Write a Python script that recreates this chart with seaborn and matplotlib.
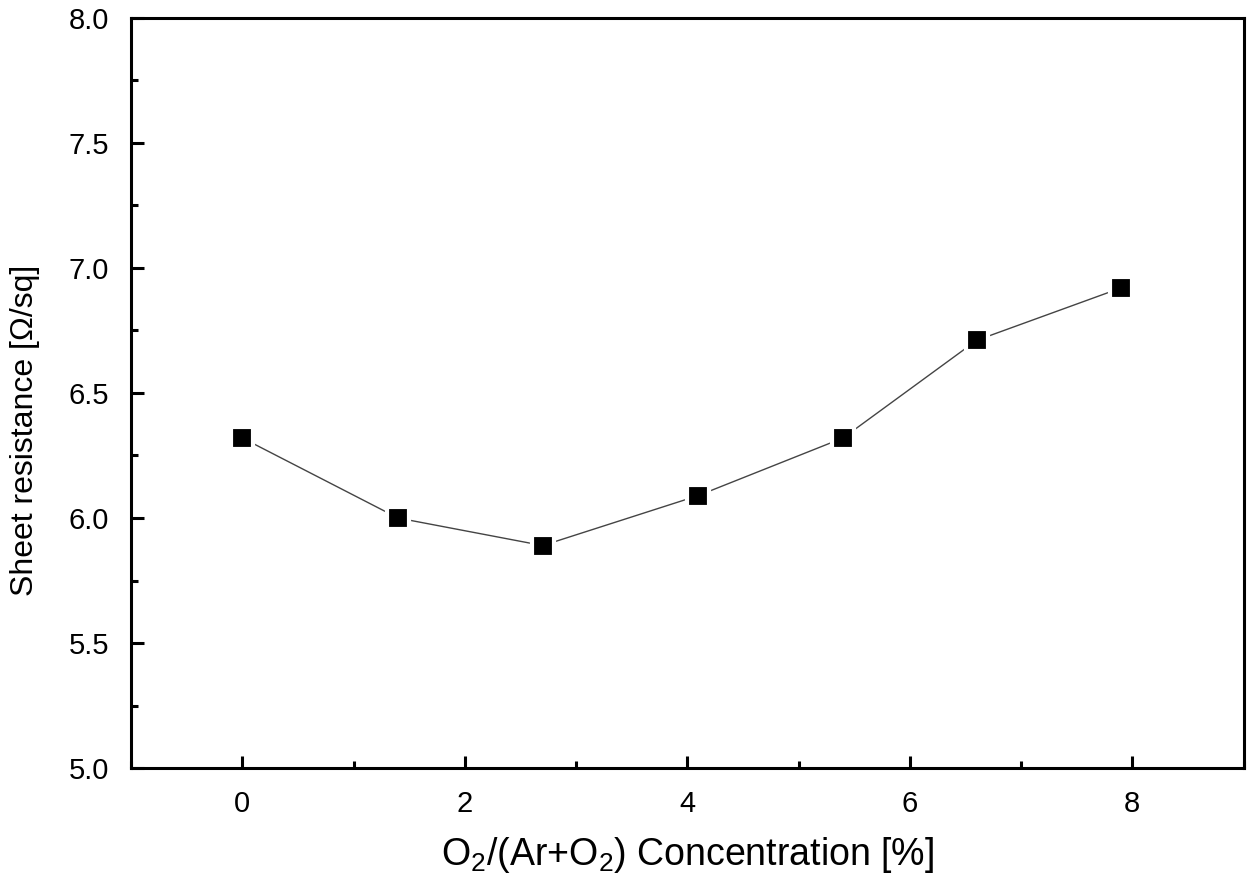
import matplotlib
matplotlib.use("Agg")
import matplotlib.pyplot as plt
from matplotlib.ticker import MultipleLocator, FormatStrFormatter
import seaborn as sns
import pandas as pd

# data
o2_conc = [0.0, 1.4, 2.7, 4.1, 5.4, 6.6, 7.9]
sheet_res = [6.32, 6.00, 5.89, 6.09, 6.32, 6.71, 6.92]

df = pd.DataFrame({"o2": o2_conc, "rs": sheet_res})

sns.set_style("white")
plt.rcParams["font.family"] = ["Liberation Sans", "DejaVu Sans"]
plt.rcParams["mathtext.fontset"] = "custom"
plt.rcParams["mathtext.rm"] = "Liberation Sans"
plt.rcParams["text.color"] = "black"
plt.rcParams["axes.labelcolor"] = "black"
plt.rcParams["xtick.color"] = "black"
plt.rcParams["ytick.color"] = "black"

fig = plt.figure(figsize=(12.6, 8.83), dpi=100)
ax = fig.add_axes([0.104, 0.130, 0.883, 0.850])

sns.lineplot(data=df, x="o2", y="rs", color="#444444", linewidth=1.0, ax=ax, zorder=2)
sns.scatterplot(data=df, x="o2", y="rs", marker="s", s=230, color="black",
                edgecolor="white", linewidth=3, ax=ax, zorder=3)

ax.set_xlim(-1, 9)
ax.set_ylim(5.0, 8.0)
ax.xaxis.set_major_locator(MultipleLocator(2))
ax.xaxis.set_minor_locator(MultipleLocator(1))
ax.yaxis.set_major_locator(MultipleLocator(0.5))
ax.yaxis.set_minor_locator(MultipleLocator(0.25))
ax.yaxis.set_major_formatter(FormatStrFormatter("%.1f"))

ax.tick_params(which="both", direction="in", bottom=True, left=True,
               top=False, right=False, width=2.2, labelsize=21, colors="black")
ax.tick_params(which="major", length=9)
ax.tick_params(which="minor", length=5)
ax.tick_params(axis="x", pad=16)
ax.tick_params(axis="y", pad=16)

for sp in ax.spines.values():
    sp.set_linewidth(2.2)
    sp.set_color("black")

ax.set_xlabel(r"O$_\mathregular{2}$/(Ar+O$_\mathregular{2}$) Concentration [%]", fontsize=27, labelpad=12)
ax.set_ylabel("Sheet resistance [Ω/sq]", fontsize=23)
ax.yaxis.set_label_coords(-0.082, 0.45)

fig.savefig("out.png", dpi=100)
